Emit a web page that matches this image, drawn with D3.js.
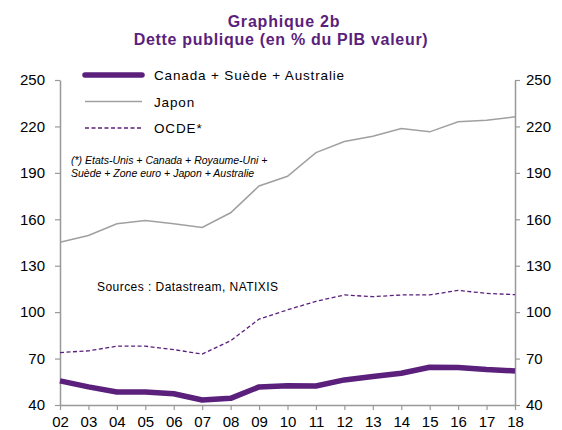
<!DOCTYPE html>
<html><head><meta charset="utf-8">
<script src="https://cdn.jsdelivr.net/npm/d3@7"></script>
<style>body{margin:0;background:#fff}svg{display:block;font-family:"Liberation Sans",Arial,sans-serif}</style>
</head><body>
<svg id="c" width="562" height="430"></svg>
<script>
const years = ["02","03","04","05","06","07","08","09","10","11","12","13","14","15","16","17","18"];
const canadaSuedeAustralie = [55.6,51.7,48.4,48.4,47.3,43.2,44.3,51.7,52.5,52.3,56.2,58.4,60.5,64.4,64.3,62.9,62];
const japon = [145.2,149.5,157.1,159.2,157.1,154.7,164.2,181.5,187.8,203.1,210.2,213.7,218.7,216.5,223,224,226.2];
const ocde = [73.9,75,78,78,75.8,72.9,81.5,95.5,101.5,107,111.1,110,111.1,111.1,114.1,112.1,111.3];
const yTicks = [40,70,100,130,160,190,220,250];
const seriesNames = ["Canada + Suède + Australie","Japon","OCDE*"];

const purple = "#5b1f7c", gray = "#a0a0a0", axisGray = "#999";
const svg = d3.select("#c");
const x = d3.scalePoint().domain(years).range([60,515]);
const y = d3.scaleLinear().domain([40,250]).range([405,80]);

// titles
svg.append("text").attr("x",284).attr("y",27).attr("text-anchor","middle").attr("letter-spacing",0.8)
  .attr("font-size",16).attr("font-weight","bold").attr("fill",purple).text("Graphique 2b");
svg.append("text").attr("x",281).attr("y",45).attr("text-anchor","middle").attr("letter-spacing",0.7)
  .attr("font-size",16).attr("font-weight","bold").attr("fill",purple).text("Dette publique (en % du PIB valeur)");

// axes
function styleAxis(g){
  g.select(".domain").attr("stroke",axisGray).attr("stroke-width",1.5);
  g.selectAll(".tick line").attr("stroke",axisGray).attr("stroke-width",1.2);
  g.selectAll(".tick text").attr("fill","#000").attr("font-size",15).attr("font-family","Liberation Sans, Arial, sans-serif");
}
svg.append("g").attr("transform","translate(60,0)")
  .call(d3.axisLeft(y).tickValues(yTicks).tickSize(5).tickSizeOuter(0).tickPadding(10)).call(styleAxis);
svg.append("g").attr("transform","translate(515,0)")
  .call(d3.axisRight(y).tickValues(yTicks).tickSize(5).tickSizeOuter(0).tickPadding(6)).call(styleAxis);
svg.append("g").attr("transform","translate(0,405)")
  .call(d3.axisBottom(x).tickSize(5).tickSizeOuter(0).tickPadding(6)).call(styleAxis);

const line = d3.line().x((d,i)=>x(years[i])).y(d=>y(d));
svg.append("path").datum(japon).attr("d",line).attr("fill","none").attr("stroke",gray).attr("stroke-width",1.5);
svg.append("path").datum(ocde).attr("d",line).attr("fill","none").attr("stroke",purple).attr("stroke-width",1.3).attr("stroke-dasharray","4,2.5");
svg.append("path").datum(canadaSuedeAustralie).attr("d",line).attr("fill","none").attr("stroke",purple).attr("stroke-width",5.5).attr("stroke-linejoin","round");

// legend
const leg = [
  {name:seriesNames[0], w:5.5, c:purple, dash:null, cap:"round"},
  {name:seriesNames[1], w:1.5, c:gray, dash:null, cap:"butt"},
  {name:seriesNames[2], w:1.3, c:purple, dash:"4,2.5", cap:"butt"}
];
leg.forEach((l,i)=>{
  const ly = 75 + i*26.5;
  svg.append("line").attr("x1",85).attr("x2",142).attr("y1",ly).attr("y2",ly)
    .attr("stroke",l.c).attr("stroke-width",l.w).attr("stroke-linecap",l.cap).attr("stroke-dasharray",l.dash);
  svg.append("text").attr("x",154).attr("y",ly+5).attr("font-size",13.5).attr("letter-spacing",0.85).attr("fill","#000").text(l.name);
});

// notes
svg.append("text").attr("x",71).attr("y",164).attr("font-size",10.5).attr("font-style","italic").text("(*) Etats-Unis + Canada + Royaume-Uni +");
svg.append("text").attr("x",71).attr("y",177).attr("font-size",10.5).attr("font-style","italic").text("Suède + Zone euro + Japon + Australie");
svg.append("text").attr("x",97).attr("y",291).attr("font-size",12).attr("letter-spacing",0.45).text("Sources  : Datastream,  NATIXIS");
</script>
</body></html>
